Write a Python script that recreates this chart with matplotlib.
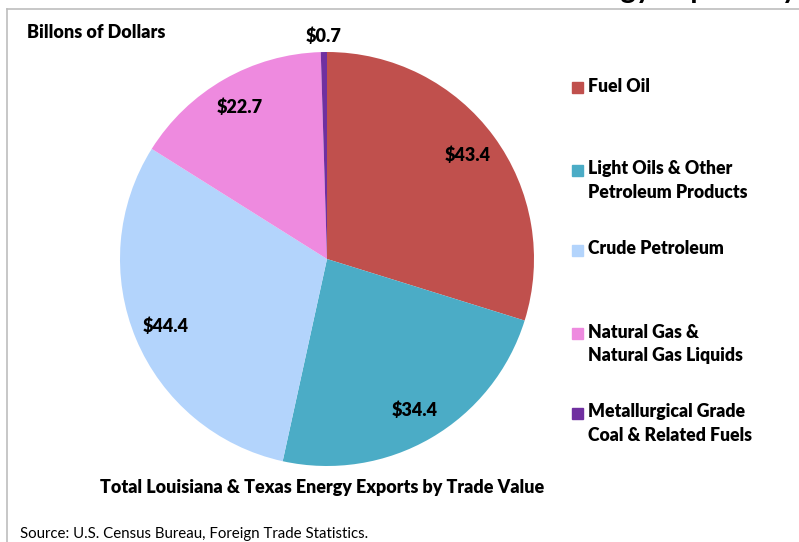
import matplotlib
matplotlib.use("Agg")
import matplotlib.pyplot as plt
from matplotlib.lines import Line2D
from matplotlib.patches import Rectangle

categories = ["Fuel Oil", "Light Oils & Other\nPetroleum Products", "Crude Petroleum",
              "Natural Gas &\nNatural Gas Liquids", "Metallurgical Grade\nCoal & Related Fuels"]
values = [43.4, 34.4, 44.4, 22.7, 0.7]
colors = ["#C0504D", "#4BACC6", "#B3D4FC", "#EE8ADF", "#7030A0"]

W, H = 799, 542
plt.rcParams['font.family'] = ['Lato', 'DejaVu Sans']
fig = plt.figure(figsize=(W / 100, H / 100), dpi=100)

def fx(px):
    return px / W

def fy(py):
    return 1 - py / H

# frame (top and left edges visible)
fig.add_artist(Line2D([fx(6.5), fx(6.5)], [0, fy(8.5)], color="#BDBDBD", lw=1.2))
fig.add_artist(Line2D([fx(6.5), 1], [fy(8.5), fy(8.5)], color="#BDBDBD", lw=1.2))

# title cut off at the very top, as in the source image
fig.text(fx(797), fy(-2), "Energy Exports by", ha="right", va="baseline",
         fontsize=21, fontweight="bold")

# pie
cx, cy, r = 327, 259, 207
half = 212
ax = fig.add_axes([fx(cx - half), fy(cy + half), (2 * half) / W, (2 * half) / H])
wedges, texts, autotexts = ax.pie(values, colors=colors, startangle=90, counterclock=False,
                                  autopct=lambda p: "${:.1f}".format(p * sum(values) / 100),
                                  pctdistance=0.845, wedgeprops=dict(linewidth=0))
for t in autotexts:
    t.set_fontsize(13)
    t.set_fontweight("heavy")
# small slice label sits outside the pie
x, y = autotexts[-1].get_position()
scale = 1.075 / 0.845
autotexts[-1].set_position((x * scale, y * scale))
ax.set_xlim(-half / r, half / r)
ax.set_ylim(-half / r, half / r)
ax.set_aspect("equal")
ax.axis("off")

# legend drawn by hand (marker aligned with first line)
legend_y = [87, 170, 250, 333, 413]
for name, col, ly in zip(categories, colors, legend_y):
    fig.add_artist(Rectangle((fx(572), fy(ly + 5.5)), 11 / W, 11 / H, color=col,
                             transform=fig.transFigure))
    fig.text(fx(588), fy(ly - 9.5), name, ha="left", va="top", fontsize=12.7,
             fontweight="heavy", linespacing=1.45)

fig.text(fx(27), fy(32), "Billons of Dollars", ha="left", va="center",
         fontsize=13, fontweight="heavy")
fig.text(fx(322), fy(487), "Total Louisiana & Texas Energy Exports by Trade Value",
         ha="center", va="center", fontsize=12.9, fontweight="heavy")
fig.text(fx(20), fy(534), "Source: U.S. Census Bureau, Foreign Trade Statistics.",
         ha="left", va="center", fontsize=10.8)

fig.savefig("out.png", dpi=100)
